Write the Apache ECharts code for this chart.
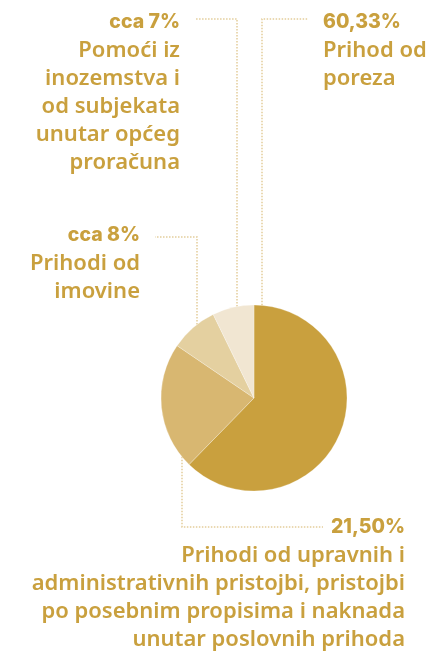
<!DOCTYPE html>
<html>
<head>
<meta charset="utf-8">
<script src="https://cdn.jsdelivr.net/npm/echarts@6/dist/echarts.min.js"></script>
<style>
  html, body { margin: 0; padding: 0; background: #ffffff; }
  #chart { width: 443px; height: 657px; }
</style>
</head>
<body>
<div id="chart"></div>
<script>
// Revenue structure shares (percent)
const shareValues = [60.33, 21.50, 8, 7];
const shareLabels = ['60,33%', '21,50%', 'cca 8%', 'cca 7%'];
const categoryNames = [
  'Prihod od\nporeza',
  'Prihodi od upravnih i\nadministrativnih pristojbi, pristojbi\npo posebnim propisima i naknada\nunutar poslovnih prihoda',
  'Prihodi od\nimovine',
  'Pomoći iz\ninozemstva i\nod subjekata\nunutar općeg\nproračuna'
];
const sliceColors = ['#C9A03E', '#D8B771', '#E4D0A0', '#F1E6D2'];

const PIE_CENTER = [254, 398];
const PIE_RADIUS = 93;
const TEXT_COLOR = '#C9A03E';
const LEADER_COLOR = '#E3CD9B';

// Point on the pie rim straight above/below a given x
function rimPoint(x, below) {
  const dx = x - PIE_CENTER[0];
  const dy = Math.sqrt(PIE_RADIUS * PIE_RADIUS - dx * dx);
  return [x, below ? PIE_CENTER[1] + dy : PIE_CENTER[1] - dy];
}

// Label placement: text block anchor + elbow leader line
const labelPlacement = [
  { x: 323, y: 7,   align: 'left',  line: [rimPoint(262), [262, 19], [308, 19]] },
  { x: 405, y: 512, align: 'right', line: [rimPoint(182, true), [182, 527], [323, 527]] },
  { x: 140, y: 220, align: 'right', line: [rimPoint(197), [197, 237], [155, 237]] },
  { x: 180, y: 7,   align: 'right', line: [rimPoint(237), [237, 19], [195, 19]] }
];

const chart = echarts.init(document.getElementById('chart'), null, { renderer: 'canvas' });

chart.setOption({
  backgroundColor: '#ffffff',
  animation: false,
  series: [{
    type: 'pie',
    center: PIE_CENTER,
    radius: PIE_RADIUS,
    startAngle: 90,
    clockwise: true,
    avoidLabelOverlap: false,
    data: shareValues.map((v, i) => ({
      value: v,
      name: categoryNames[i],
      itemStyle: { color: sliceColors[i] }
    })),
    itemStyle: { borderColor: 'rgba(255,255,255,0.5)', borderWidth: 0.5 },
    label: {
      show: true,
      position: 'outside',
      formatter: (p) => '{h|' + shareLabels[p.dataIndex] + '}\n{b|' + p.name.split('\n').join('}\n{b|') + '}',
      rich: {
        h: {
          fontFamily: 'Inter',
          fontWeight: 800,
          fontSize: 19.5,
          lineHeight: 30,
          color: TEXT_COLOR
        },
        b: {
          fontFamily: 'Noto Sans',
          fontWeight: 600,
          fontSize: 22,
          lineHeight: 28,
          color: TEXT_COLOR
        }
      }
    },
    labelLine: {
      show: true,
      lineStyle: { color: LEADER_COLOR, width: 1.5, type: [1.5, 1.5] }
    },
    labelLayout: (params) => {
      const pl = labelPlacement[params.dataIndex];
      return {
        x: pl.x,
        y: pl.y,
        align: pl.align,
        verticalAlign: 'top',
        labelLinePoints: pl.line
      };
    }
  }]
});
</script>
</body>
</html>
